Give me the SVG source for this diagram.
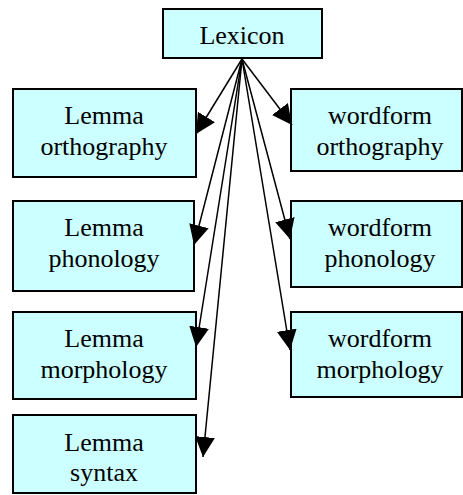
<svg xmlns="http://www.w3.org/2000/svg" width="463" height="495" viewBox="0 0 463 495">
  <style>
    .box { fill: #ccffff; stroke: #000; stroke-width: 2; }
    .lbl { font-family: 'Liberation Serif', 'Times New Roman', serif; font-size: 26px; fill: #000; text-anchor: middle; }
    .edge { stroke: #000; stroke-width: 1.5; fill: none; marker-end: url(#arrow); }
  </style>
  <defs>
    <!-- solid triangular arrowhead, tip at the path end -->
    <marker id="arrow" markerUnits="userSpaceOnUse" markerWidth="20" markerHeight="20" refX="20" refY="10" orient="auto">
      <path d="M0,0 L20,10 L0,20 z" fill="#000"/>
    </marker>
  </defs>

  <rect width="463" height="495" fill="#fff"/>

  <g id="lexicon">
    <rect class="box" x="163" y="9" width="159" height="49"/>
    <text class="lbl" x="242" y="44">Lexicon</text>
  </g>

  <!-- lemma column -->
  <g id="lemma-orthography">
    <rect class="box" x="13" y="89" width="183" height="88"/>
    <text class="lbl" x="104" y="124">Lemma</text>
    <text class="lbl" x="104" y="155">orthography</text>
  </g>
  <g id="lemma-phonology">
    <rect class="box" x="13" y="201" width="181" height="90"/>
    <text class="lbl" x="104" y="236">Lemma</text>
    <text class="lbl" x="104" y="267">phonology</text>
  </g>
  <g id="lemma-morphology">
    <rect class="box" x="13" y="312" width="183" height="87"/>
    <text class="lbl" x="104" y="347">Lemma</text>
    <text class="lbl" x="104" y="378">morphology</text>
  </g>
  <g id="lemma-syntax">
    <rect class="box" x="13" y="415" width="183" height="78"/>
    <text class="lbl" x="104" y="451">Lemma</text>
    <text class="lbl" x="104" y="481">syntax</text>
  </g>

  <!-- wordform column -->
  <g id="wordform-orthography">
    <rect class="box" x="291" y="89" width="171" height="82"/>
    <text class="lbl" x="380" y="124">wordform</text>
    <text class="lbl" x="380" y="155">orthography</text>
  </g>
  <g id="wordform-phonology">
    <rect class="box" x="291" y="201" width="171" height="86"/>
    <text class="lbl" x="380" y="236">wordform</text>
    <text class="lbl" x="380" y="267">phonology</text>
  </g>
  <g id="wordform-morphology">
    <rect class="box" x="291" y="312" width="171" height="85"/>
    <text class="lbl" x="380" y="347">wordform</text>
    <text class="lbl" x="380" y="378">morphology</text>
  </g>

  <!-- all edges fan out from the bottom of the Lexicon box -->
  <g id="connectors">
    <line class="edge" x1="242" y1="59" x2="196" y2="134"/>
    <line class="edge" x1="242" y1="59" x2="292" y2="125"/>
    <line class="edge" x1="242" y1="59" x2="194" y2="245"/>
    <line class="edge" x1="242" y1="59" x2="196" y2="347"/>
    <line class="edge" x1="242" y1="59" x2="203" y2="457"/>
    <line class="edge" x1="242" y1="59" x2="290" y2="239"/>
    <line class="edge" x1="242" y1="59" x2="290" y2="350"/>
  </g>
</svg>
